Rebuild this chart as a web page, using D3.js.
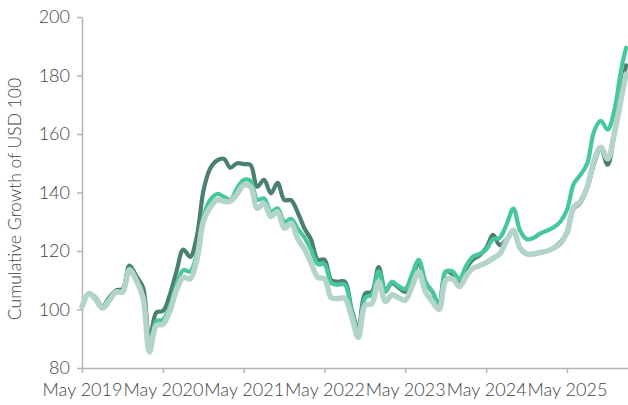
<!DOCTYPE html>
<html>
<head>
<meta charset="utf-8">
<script src="https://cdn.jsdelivr.net/npm/d3@7/dist/d3.min.js"></script>
<style>
  html, body { margin: 0; padding: 0; background: #fff; }
  svg { display: block; }
  text { font-family: "Lato", "Open Sans", sans-serif; font-weight: 300; fill: #444; }
</style>
</head>
<body>
<svg id="chart" width="628" height="405"></svg>
<script>
const dates = [
  "2019-05-01","2019-06-01","2019-07-01","2019-08-01","2019-09-01","2019-10-01","2019-11-01","2019-12-01",
  "2020-01-01","2020-02-01","2020-03-01","2020-04-01","2020-05-01","2020-06-01","2020-07-01","2020-08-01",
  "2020-09-01","2020-10-01","2020-11-01","2020-12-01","2021-01-01","2021-02-01","2021-03-01","2021-04-01",
  "2021-05-01","2021-06-01","2021-07-01","2021-08-01","2021-09-01","2021-10-01","2021-11-01","2021-12-01",
  "2022-01-01","2022-02-01","2022-03-01","2022-04-01","2022-05-01","2022-06-01","2022-07-01","2022-08-01",
  "2022-09-01","2022-10-01","2022-11-01","2022-12-01","2023-01-01","2023-02-01","2023-03-01","2023-04-01",
  "2023-05-01","2023-06-01","2023-07-01","2023-08-01","2023-09-01","2023-10-01","2023-11-01","2023-12-01",
  "2024-01-01","2024-02-01","2024-03-01","2024-04-01","2024-05-01","2024-06-01","2024-07-01","2024-08-01",
  "2024-09-01","2024-10-01","2024-11-01","2024-12-01","2025-01-01","2025-02-01","2025-03-01","2025-04-01",
  "2025-05-01","2025-06-01","2025-07-01","2025-08-01","2025-09-01","2025-10-01","2025-11-01","2025-12-01",
  "2026-01-01","2026-01-23"
];

const darkSeries = [
  101,105.5,104,101,104,106.5,107,115,
  111.5,107.5,89.5,99,99.5,105,113,120.5,
  118,125,141,148.3,151,151.5,148.5,150,
  149.7,149.4,142,144.3,139.7,143.3,137.4,137.4,
  133,127.5,124,117,117,110,109.5,109.5,
  100,93.5,105.5,106,114.5,106.5,109,107.5,
  106,111,116,109,106,101.5,113,112,
  109,114,117,118.5,121,125.5,122,124,
  127,121,119,119,119.5,120,121,123,
  126,134.5,136.5,141.5,150,155,149.5,160,
  174,183.5
];

const brightSeries = [
  101,105.5,104,100.5,103.5,106,106.5,114,
  110.5,104.5,87.5,96,96.5,101,108.5,113.5,
  113,119,132,137.5,139.5,138.5,137.5,141.5,
  144.3,144,137.5,138,133.4,134.6,130,131,
  127.5,124.5,120.5,115.5,115.5,109,108.5,108.5,
  99.5,93,104,105,113,106,109.5,108,
  107,112,117,109.5,106,102,113,113,
  110.5,115,118,119,120.5,124,124.5,129,
  134.5,127,124,124.5,126,127,128,130,
  134,143,146,150,161,164.5,161.5,168,
  182,189.5
];

const lightSeries = [
  101,105.5,103.5,100.5,103,106,106,113.5,
  110,104,85.5,94.5,95,99.5,106.5,111,
  110.5,117,130.5,135,137.5,137,137,139.5,
  142.5,142,134.6,136.3,131.8,133.4,127.8,129.5,
  124,120.5,116,111,110.5,104,103.8,103.8,
  97.5,90.5,101.5,102,109.5,102.7,105,104,
  103.2,108,112.9,106,102.7,100,110,110.5,
  107.8,111.5,114,115,116,117.5,119,123.5,
  127,121,119,119,119.5,120,121,122.5,
  126.5,135,137,142,151,155.5,151.5,160,
  172,180.5
];

const yTicks = [80, 100, 120, 140, 160, 180, 200];
const xTickLabels = ["2019-05-01","2020-05-01","2021-05-01","2022-05-01","2023-05-01","2024-05-01","2025-05-01"];
const yTitle = "Cumulative Growth of USD 100";

const parse = d3.timeParse("%Y-%m-%d");
const svg = d3.select("#chart");

const x = d3.scaleTime()
  .domain([parse("2019-05-01"), parse("2026-02-01")])
  .range([82, 628]);
const y = d3.scaleLinear().domain([80, 200]).range([368, 17]);

const axisColor = "#b5b5b5";

// Y axis
const yAxis = svg.append("g")
  .attr("transform", "translate(82,0)")
  .call(d3.axisLeft(y).tickValues(yTicks).tickSize(5).tickSizeOuter(0).tickPadding(7));
yAxis.select(".domain").attr("stroke", axisColor).attr("stroke-width", 1.5);
yAxis.selectAll(".tick line").attr("stroke", axisColor).attr("stroke-width", 1.5);
yAxis.selectAll(".tick text").style("font-size", "18px").attr("fill", "#444");

// X axis
const xAxis = svg.append("g")
  .attr("transform", "translate(0,368)")
  .call(d3.axisBottom(x)
    .tickValues(xTickLabels.map(parse))
    .tickFormat(d3.timeFormat("%b %Y"))
    .tickSize(5).tickSizeOuter(0).tickPadding(10));
xAxis.select(".domain").attr("stroke", axisColor).attr("stroke-width", 1.5);
xAxis.selectAll(".tick line").attr("stroke", axisColor).attr("stroke-width", 1.5);
xAxis.selectAll(".tick text").style("font-size", "18px").attr("fill", "#444");

// Y title
svg.append("text")
  .attr("transform", "translate(21,199) rotate(-90)")
  .attr("text-anchor", "middle")
  .style("font-size", "17.5px")
  .text(yTitle);

const parsedDates = dates.map(parse);
const line = d3.line()
  .x((d, i) => x(parsedDates[i]))
  .y(d => y(d))
  .curve(d3.curveCatmullRom.alpha(0.5));

const series = [
  { values: darkSeries, color: "#4a806c", width: 4.2 },
  { values: brightSeries, color: "#47c89a", width: 4.2 },
  { values: lightSeries, color: "#b4d4c8", width: 5.5 }
];

svg.append("g").selectAll("path")
  .data(series)
  .join("path")
  .attr("fill", "none")
  .attr("stroke", d => d.color)
  .attr("stroke-width", d => d.width)
  .attr("stroke-linejoin", "round")
  .attr("stroke-linecap", "round")
  .attr("d", d => line(d.values));
</script>
</body>
</html>
